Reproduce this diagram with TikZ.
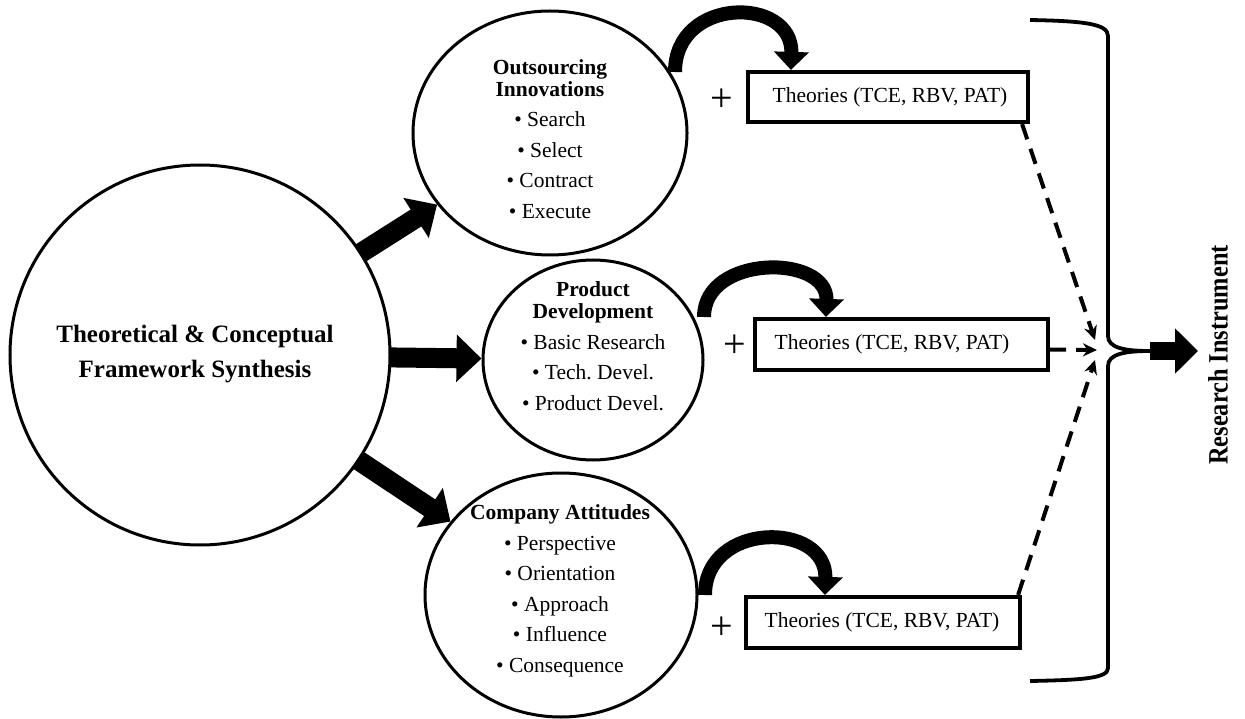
\documentclass[tikz,border=0pt]{standalone}
\usepackage{fontspec}
\setmainfont{Liberation Serif}
\usetikzlibrary{shapes.geometric,arrows.meta,backgrounds}
\begin{document}
\begin{tikzpicture}[x=1pt,y=-1pt,
  circ/.style={draw, line width=3pt, fill=white, ellipse, inner sep=0pt},
  thbox/.style={draw, line width=4.2pt, rectangle, inner sep=0pt},
  ttext/.style={font=\fontsize{21.5}{21.5}\selectfont, inner sep=0pt},
  ctext/.style={font=\fontsize{21.5}{30.5}\selectfont, align=center, inner sep=0pt},
  bigtext/.style={font=\fontsize{25}{35}\selectfont\bfseries, align=center, inner sep=0pt},
  bigarrow/.style={line width=20pt, -{Triangle[length=25pt,width=46pt]}},
  curvearrow/.style={line width=14pt, -{Triangle[length=18pt,width=34pt]}},
  dasharrow/.style={line width=4pt, dash pattern=on 16pt off 10pt, -{Stealth[length=14pt,width=13pt]}},
  bracestyle/.style={line width=3.8pt},
  plussign/.style={font=\fontsize{40}{40}\selectfont, inner sep=0pt}
]
\useasboundingbox (0,0) rectangle (1245,719);

% circles
\node[circ, minimum width=380pt, minimum height=380pt] (big) at (200,355) {};
\node[circ, minimum width=274pt, minimum height=244pt] (oc) at (550,133) {};
\node[circ, minimum width=220pt, minimum height=200pt] (pd) at (593,360) {};
\node[circ, minimum width=272pt, minimum height=244pt] (ca) at (561,595) {};

% straight arrows behind the circles
\begin{pgfonlayer}{background}
\draw[bigarrow] (big.center) -- (oc);
\draw[bigarrow] (big.center) -- (pd);
\draw[bigarrow] (big.center) -- (ca);
\end{pgfonlayer}

% circle texts
\node[bigtext] (bigtx) at (195,354) {Theoretical \& Conceptual\\Framework Synthesis};
\node[ctext] (octx) at (550,139) {\textbf{Outsourcing}\\[-9pt]\textbf{Innovations}\\• Search\\• Select\\• Contract\\• Execute};
\node[ctext] (pdtx) at (593,346) {\textbf{Product}\\[-8pt]\textbf{Development}\\• Basic Research\\• Tech.\ Devel.\\• Product Devel.};
\node[ctext] (catx) at (560,591) {\textbf{Company Attitudes}\\• Perspective\\• Orientation\\• Approach\\• Influence\\• Consequence};

% theory boxes
\node[thbox, minimum width=280pt, minimum height=50pt] (b1) at (888,97) {};
\node[thbox, minimum width=293pt, minimum height=51pt] (b2) at (901.5,344.5) {};
\node[thbox, minimum width=274pt, minimum height=51pt] (b3) at (883,622.5) {};
\node[ttext] (t1) at (890,97) {Theories (TCE, RBV, PAT)};
\node[ttext] (t2) at (892,344) {Theories (TCE, RBV, PAT)};
\node[ttext] (t3) at (882,622) {Theories (TCE, RBV, PAT)};

% plus signs
\node[plussign] (p1) at (722,100) {+};
\node[plussign] (p2) at (735,346) {+};
\node[plussign] (p3) at (722,628) {+};

% curved arrows
\coordinate (c1s) at (675,72);
\coordinate (c2s) at (704,317);
\coordinate (c3s) at (705,595);
\draw[curvearrow] (c1s) .. controls (675,-4) and (793,-4) .. ([xshift=45pt]b1.north west);
\draw[curvearrow] (c2s) .. controls (704,254) and (828,254) .. ([xshift=73pt]b2.north west);
\draw[curvearrow] (c3s) .. controls (705,521) and (827,521) .. ([xshift=81pt]b3.north west);

% dashed arrows
\coordinate (m1) at (1095,340);
\coordinate (m2) at (1097,350);
\coordinate (m3) at (1095,360);
\draw[dasharrow] ([xshift=-8pt]b1.south east) -- (m1);
\draw[dasharrow] ([yshift=-5pt]b2.east) -- (m2);
\draw[dasharrow] ([xshift=-4pt]b3.north east) -- (m3);

% brace
\coordinate (bt) at (1150,351);
\draw[bracestyle] (1030,20) .. controls (1085,21) and (1108,24) .. (1108,36) -- (1108,336)
  .. controls (1108,348) and (1125,351) .. (bt)
  .. controls (1125,351) and (1108,354) .. (1108,366) -- (1108,668)
  .. controls (1108,678) and (1085,680) .. (1030,681);

% final arrow and label
\node[rotate=90, inner sep=0pt] (ri) at (1218,355) {\scalebox{0.87}[1]{\fontsize{28}{28}\selectfont\bfseries Research Instrument}};
\coordinate (rt) at (1198,351);
\draw[line width=18pt, -{Triangle[length=23pt,width=44pt]}] (bt) -- (rt);
\end{tikzpicture}
\end{document}
